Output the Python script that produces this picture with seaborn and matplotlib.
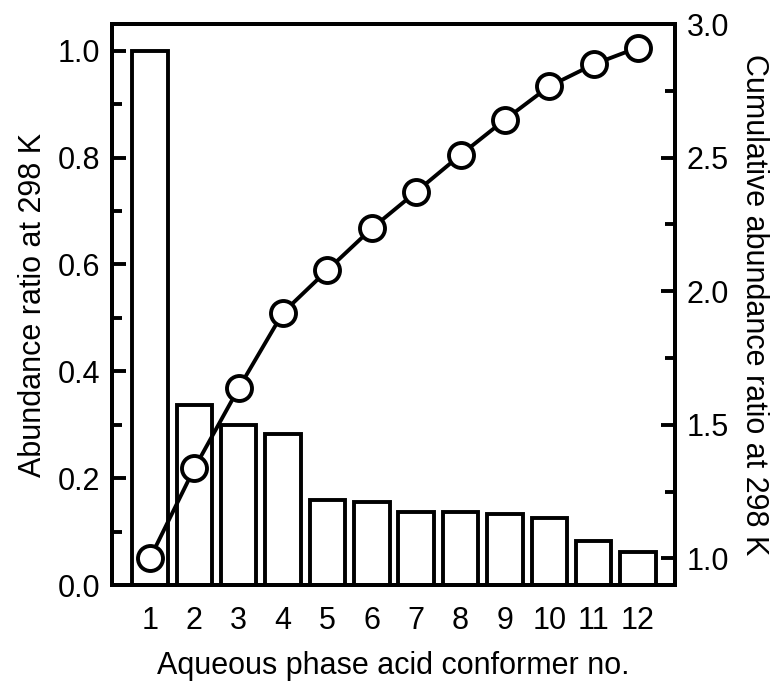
import numpy as np
import pandas as pd
import matplotlib
matplotlib.use('Agg')
import matplotlib.pyplot as plt
from matplotlib.ticker import MultipleLocator, FormatStrFormatter
import seaborn as sns

conformer = [1, 2, 3, 4, 5, 6, 7, 8, 9, 10, 11, 12]
abundance = [1.0, 0.337, 0.300, 0.283, 0.159, 0.156, 0.1375, 0.137, 0.1325, 0.125, 0.082, 0.0625]
cumulative = [1.0, 1.337, 1.637, 1.920, 2.079, 2.235, 2.372, 2.510, 2.642, 2.767, 2.849, 2.912]

df = pd.DataFrame({'conformer': conformer, 'abundance': abundance, 'cumulative': cumulative})

sns.set_style('white')
plt.rcParams['font.family'] = ['Liberation Sans', 'DejaVu Sans']
plt.rcParams['text.color'] = 'black'
plt.rcParams['axes.labelcolor'] = 'black'
plt.rcParams['xtick.color'] = 'black'
plt.rcParams['ytick.color'] = 'black'

lw = 2.8
fs = 22

fig = plt.figure(figsize=(7.8, 6.82), dpi=100)
ax = fig.add_axes([0.1432, 0.1422, 0.8658 - 0.1432, 0.9648 - 0.1422])

sns.barplot(data=df, x='conformer', y='abundance', native_scale=True, width=0.8,
            color='white', edgecolor='black', linewidth=lw, ax=ax)
ax.set_xlim(0.137, 12.84)
ax.set_ylim(0, 1.05)
ax.set_xticks(conformer)
ax.set_xticklabels([str(c) for c in conformer])
ax.yaxis.set_major_locator(MultipleLocator(0.2))
ax.yaxis.set_minor_locator(MultipleLocator(0.1))
ax.yaxis.set_major_formatter(FormatStrFormatter('%.1f'))
ax.tick_params(axis='y', which='major', direction='in', length=10, width=lw, labelsize=fs, pad=8)
ax.tick_params(axis='y', which='minor', direction='in', length=7, width=lw)
ax.tick_params(axis='x', length=0, labelsize=fs, pad=15)
ax.set_xlabel('Aqueous phase acid conformer no.', fontsize=fs, labelpad=11)
ax.set_ylabel('Abundance ratio at 298 K', fontsize=fs, labelpad=7)
for s in ax.spines.values():
    s.set_linewidth(lw)
    s.set_color('black')

ax2 = ax.twinx()
sns.lineplot(data=df, x='conformer', y='cumulative', color='black', linewidth=lw,
             marker='o', markersize=18, markerfacecolor='white', markeredgecolor='black',
             markeredgewidth=lw, ax=ax2)
ax2.set_ylim(0.9, 3.0)
ax2.yaxis.set_major_locator(MultipleLocator(0.5))
ax2.yaxis.set_minor_locator(MultipleLocator(0.25))
ax2.yaxis.set_major_formatter(FormatStrFormatter('%.1f'))
ax2.tick_params(axis='y', which='major', direction='in', length=10, width=lw, labelsize=fs, pad=8)
ax2.tick_params(axis='y', which='minor', direction='in', length=7, width=lw)
ax2.set_ylabel('Cumulative abundance ratio at 298 K', fontsize=fs, rotation=270, labelpad=29)
ax2.set_xlabel('')
for s in ax2.spines.values():
    s.set_linewidth(lw)
    s.set_color('black')

fig.savefig('out.png', dpi=100)
